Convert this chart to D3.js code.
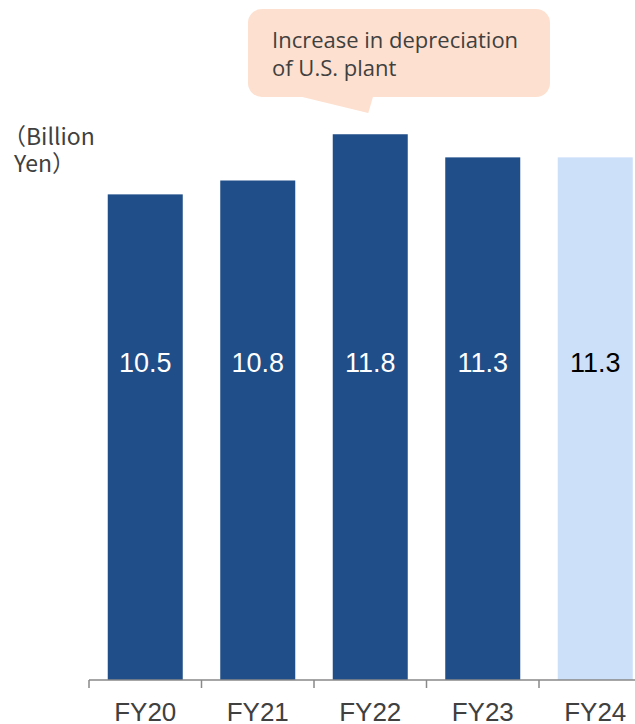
<!DOCTYPE html>
<html>
<head>
<meta charset="utf-8">
<script src="https://cdn.jsdelivr.net/npm/d3@7"></script>
<style>
  html, body { margin: 0; padding: 0; background: #fff; }
  svg { display: block; }
</style>
</head>
<body>
<svg id="chart" width="635" height="724"></svg>
<script>
// Depreciation by fiscal year (billion yen)
const categories = ["FY20", "FY21", "FY22", "FY23", "FY24"];
const values = [10.5, 10.8, 11.8, 11.3, 11.3];
const isForecast = [false, false, false, false, true];
const unitLines = ["（Billion", "Yen）"];
const noteLines = ["Increase in depreciation", "of U.S. plant"];
const noteCategory = "FY22";

const svg = d3.select("#chart");
const baseY = 680;

const x = d3.scaleBand()
  .domain(categories)
  .range([89, 89 + 112.5 * categories.length])
  .paddingInner(1 / 3)
  .paddingOuter(1 / 6);

const y = d3.scaleLinear()
  .domain([0, 14])
  .range([baseY, baseY - 46.25 * 14]);

// bars
svg.append("g").selectAll("rect")
  .data(categories)
  .join("rect")
  .attr("x", d => x(d))
  .attr("width", x.bandwidth())
  .attr("y", (d, i) => y(values[i]))
  .attr("height", (d, i) => y(0) - y(values[i]))
  .attr("fill", (d, i) => isForecast[i] ? "#cce0fa" : "#1f4e89");

// value labels
svg.append("g").selectAll("text")
  .data(categories)
  .join("text")
  .attr("x", d => x(d) + x.bandwidth() / 2)
  .attr("y", 372)
  .attr("text-anchor", "middle")
  .attr("font-family", "Liberation Sans, Arial, sans-serif")
  .attr("font-size", 27)
  .attr("fill", (d, i) => isForecast[i] ? "#000" : "#fff")
  .text((d, i) => values[i].toFixed(1));

// category axis with ticks at band boundaries
const axisG = svg.append("g");
axisG.append("line")
  .attr("x1", 89).attr("x2", 635)
  .attr("y1", baseY).attr("y2", baseY)
  .attr("stroke", "#898989").attr("stroke-width", 1.5);
axisG.selectAll("line.tick")
  .data(categories)
  .join("line")
  .attr("class", "tick")
  .attr("x1", d => x(d) - x.step() * x.paddingInner() / 2)
  .attr("x2", d => x(d) - x.step() * x.paddingInner() / 2)
  .attr("y1", baseY).attr("y2", baseY + 8)
  .attr("stroke", "#898989").attr("stroke-width", 1.5);
axisG.selectAll("text")
  .data(categories)
  .join("text")
  .attr("x", d => x(d) + x.bandwidth() / 2)
  .attr("y", 721)
  .attr("text-anchor", "middle")
  .attr("font-family", "Liberation Sans, Arial, sans-serif")
  .attr("font-size", 26)
  .attr("fill", "#404040")
  .text(d => d);

// unit label
svg.append("g").selectAll("text")
  .data(unitLines)
  .join("text")
  .attr("font-family", "Noto Sans CJK JP, sans-serif")
  .attr("font-size", 23)
  .attr("fill", "#404040")
  .attr("x", d => d.startsWith("（") ? 3 : 14)
  .attr("y", (d, i) => 145 + i * 27)
  .text(d => d);

// callout pointing at the FY22 bar
const cx = x(noteCategory) + x.bandwidth() / 2;
const note = svg.append("g");
note.append("rect")
  .attr("x", 248).attr("y", 9)
  .attr("width", 302).attr("height", 88)
  .attr("rx", 14)
  .attr("fill", "#fde0cf");
note.append("path")
  .attr("d", `M${cx - 72},96 L${cx + 3},96 L${cx - 2},113 Z`)
  .attr("fill", "#fde0cf");
note.append("g").selectAll("text")
  .data(noteLines)
  .join("text")
  .attr("font-family", "Open Sans, Noto Sans, sans-serif")
  .attr("font-size", 22)
  .attr("fill", "#404040")
  .attr("x", 272)
  .attr("y", (d, i) => 48 + i * 28)
  .text(d => d);
</script>
</body>
</html>
